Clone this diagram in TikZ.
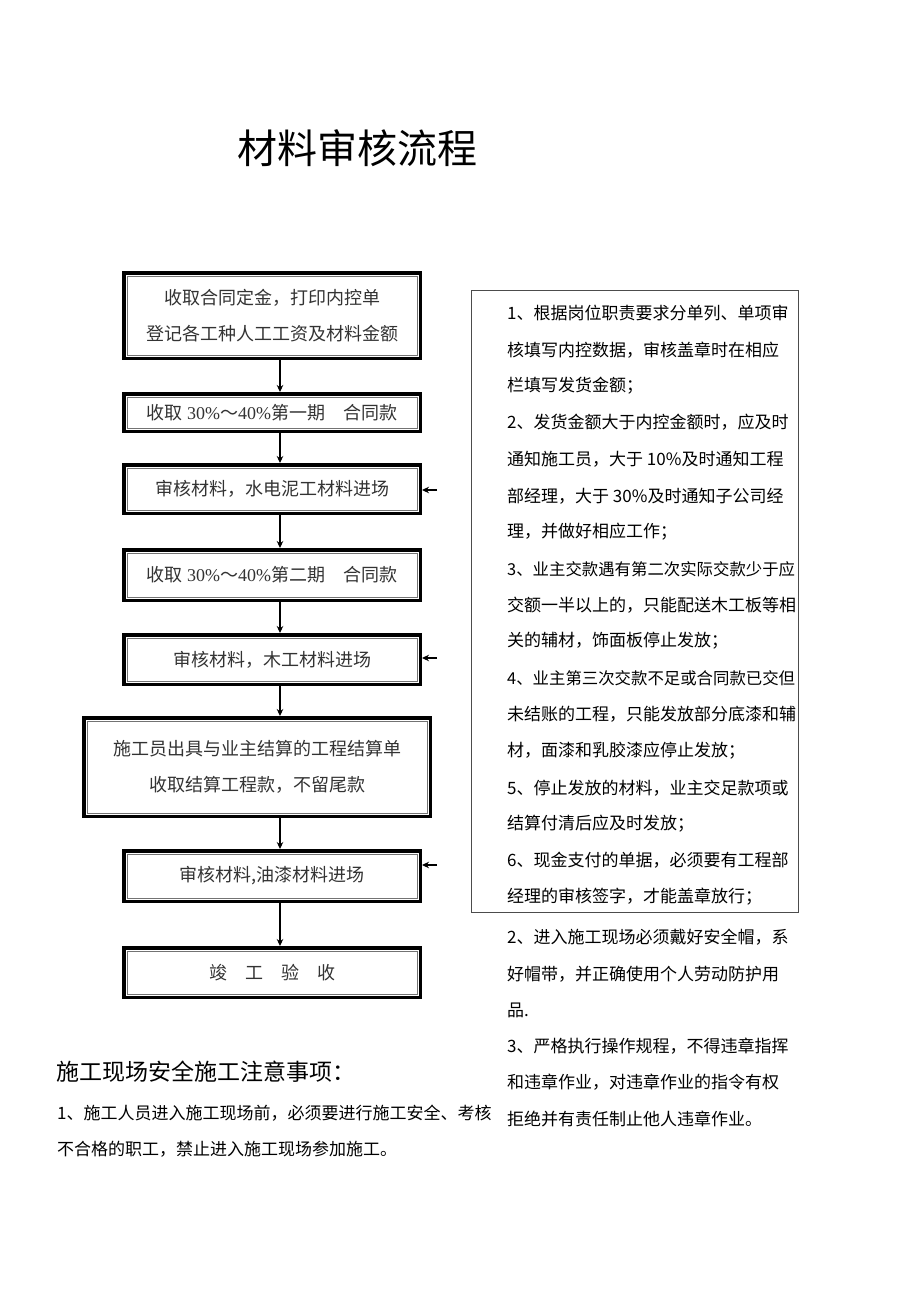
\documentclass[tikz,border=0pt]{standalone}
\usepackage{fontspec}
\newfontfamily\cjk{Noto Sans CJK SC}
\newfontfamily\lserif{Liberation Serif}
\usetikzlibrary{arrows.meta}
\begin{document}
\begin{tikzpicture}[x=1pt,y=-1pt,
  flowbox/.style={draw=black, line width=3.5, outer sep=1.75, inner sep=0,
    align=center, text=black!80, font=\cjk\fontsize{18}{36}\selectfont},
  arr/.style={line width=1.1, -{Stealth[length=7,width=6.5]}},
  rt/.style={anchor=west, inner sep=0, text=black, font=\cjk\fontsize{17}{20}\selectfont},
  rts/.style={anchor=west, inner sep=0, text=black, font=\cjk\fontsize{16.4}{20}\selectfont}]
\useasboundingbox (0,0) rectangle (920,1301);
\fill[white] (0,0) rectangle (920,1301);
\newcommand\innerframe[1]{\draw[black!55, line width=0.9] ([shift={(5,5)}]#1.north west) rectangle ([shift={(-5,-5)}]#1.south east);}
% title
\node[inner sep=0, font=\cjk\fontsize{40}{44}\selectfont] (title) at (357,148) {材料审核流程};
% flow boxes
\node[flowbox, minimum width=296.5, minimum height=85.5] (b1) at (272,315.5) {收取合同定金，打印内控单\\登记各工种人工工资及材料金额};
\node[flowbox, minimum width=296.5, minimum height=37.5] (b2) at (272,412.5) {收取 {\lserif 30\%}～{\lserif 40\%}第一期　合同款};
\node[flowbox, minimum width=296.5, minimum height=48.5] (b3) at (272,489) {审核材料，水电泥工材料进场};
\node[flowbox, minimum width=296.5, minimum height=50.5] (b4) at (272,575) {收取 {\lserif 30\%}～{\lserif 40\%}第二期　合同款};
\node[flowbox, minimum width=296.5, minimum height=49.5] (b5) at (272,659.5) {审核材料，木工材料进场};
\node[flowbox, minimum width=346.5, minimum height=98.5] (b6) at (257,767) {施工员出具与业主结算的工程结算单\\收取结算工程款，不留尾款};
\node[flowbox, minimum width=296.5, minimum height=50.5] (b7) at (272,876) {审核材料,油漆材料进场};
\node[flowbox, minimum width=296.5, minimum height=49.5] (b8) at (272,972.5) {竣　工　验　收};
\foreach \n in {b1,b2,b3,b4,b5,b6,b7,b8} {\innerframe{\n}}
% vertical connectors
\coordinate (ax) at (280,0);
\draw[arr] (b1.south -| ax) -- (b2.north -| ax);
\draw[arr] (b2.south -| ax) -- (b3.north -| ax);
\draw[arr] (b3.south -| ax) -- (b4.north -| ax);
\draw[arr] (b4.south -| ax) -- (b5.north -| ax);
\draw[arr] (b5.south -| ax) -- (b6.north -| ax);
\draw[arr] (b6.south -| ax) -- (b7.north -| ax);
\draw[arr] (b7.south -| ax) -- (b8.north -| ax);
% side arrows
\coordinate (s3) at (437,490);
\coordinate (s5) at (437,658);
\coordinate (s7) at (437,865);
\draw[arr] (s3) -- (b3.east |- s3);
\draw[arr] (s5) -- (b5.east |- s5);
\draw[arr] (s7) -- (b7.east |- s7);
% right panel
\node[draw=black!70, line width=0.8, minimum width=327, minimum height=622, inner sep=0, anchor=north west] (panel) at (471,290) {};
\node[rt] (r1) at (507,313) {1、根据岗位职责要求分单列、单项审};
\node[rt] (r2) at (507,350) {核填写内控数据，审核盖章时在相应};
\node[rt] (r3) at (507,386) {栏填写发货金额；};
\node[rt] (r4) at (507,422) {2、发货金额大于内控金额时，应及时};
\node[rt] (r5) at (507,459) {通知施工员，大于 10\%及时通知工程};
\node[rt] (r6) at (507,496) {部经理，大于 30\%及时通知子公司经};
\node[rt] (r7) at (507,532) {理，并做好相应工作；};
\node[rts] (r8) at (507,569) {3、业主交款遇有第二次实际交款少于应};
\node[rt] (r9) at (507,605) {交额一半以上的，只能配送木工板等相};
\node[rt] (r10) at (507,641) {关的辅材，饰面板停止发放；};
\node[rts] (r11) at (507,678) {4、业主第三次交款不足或合同款已交但};
\node[rt] (r12) at (507,714) {未结账的工程，只能发放部分底漆和辅};
\node[rt] (r13) at (507,751) {材，面漆和乳胶漆应停止发放；};
\node[rt] (r14) at (507,788) {5、停止发放的材料，业主交足款项或};
\node[rt] (r15) at (507,824) {结算付清后应及时发放；};
\node[rt] (r16) at (507,860) {6、现金支付的单据，必须要有工程部};
\node[rt] (r17) at (507,897) {经理的审核签字，才能盖章放行；};
% safety notes (right column)
\node[rt] (s2a) at (507,937) {2、进入施工现场必须戴好安全帽，系};
\node[rt] (s2b) at (507,974) {好帽带，并正确使用个人劳动防护用};
\node[rt] (s2c) at (507,1010) {品.};
\node[rt] (s3a) at (507,1046) {3、严格执行操作规程，不得违章指挥};
\node[rt] (s3b) at (507,1082) {和违章作业，对违章作业的指令有权};
\node[rt] (s3c) at (507,1119) {拒绝并有责任制止他人违章作业。};
% safety notes (left)
\node[anchor=west, inner sep=0, font=\cjk\fontsize{23}{26}\selectfont] (sh) at (56,1072) {施工现场安全施工注意事项：};
\node[rt] (s1a) at (57,1113) {1、施工人员进入施工现场前，必须要进行施工安全、考核};
\node[rt] (s1b) at (57,1149) {不合格的职工，禁止进入施工现场参加施工。};
\end{tikzpicture}
\end{document}
